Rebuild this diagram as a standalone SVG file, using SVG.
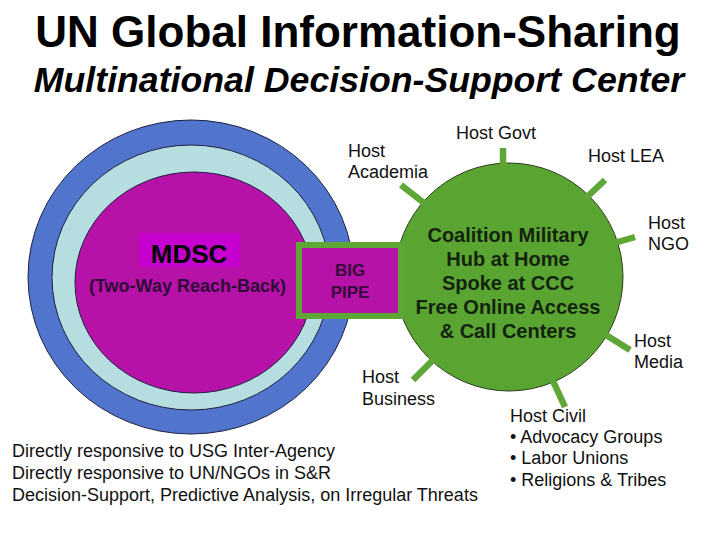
<svg xmlns="http://www.w3.org/2000/svg" width="720" height="540" viewBox="0 0 720 540">
  <style>
    text { font-family: "Liberation Sans", Arial, sans-serif; }
    .title { font-size: 44px; font-weight: bold; fill: #000; }
    .subtitle { font-size: 35.7px; font-weight: bold; font-style: italic; fill: #000; }
    .label { font-size: 18px; fill: #111; }
    .hub { font-size: 20px; font-weight: bold; fill: #14230e; }
    .pipe { font-size: 17px; font-weight: bold; fill: #35093a; }
    .ring { stroke: #1c2240; stroke-width: 1; }
    .spoke { stroke: #5ea636; stroke-width: 6.5; stroke-linecap: butt; fill: none; }
  </style>
  <rect width="720" height="540" fill="#ffffff"/>

  <g id="title">
    <text class="title" x="358" y="47" text-anchor="middle">UN Global Information-Sharing</text>
    <text class="subtitle" x="359" y="92" text-anchor="middle">Multinational Decision-Support Center</text>
  </g>

  <g id="mdsc">
    <ellipse class="ring" cx="191" cy="277" rx="163" ry="157" fill="#5175cc"/>
    <ellipse class="ring" cx="191" cy="277.5" rx="139" ry="132.5" fill="#b6dee1"/>
    <ellipse class="ring" cx="194" cy="282.5" rx="119" ry="110.5" fill="#b612a8"/>
    <rect x="139" y="233" width="101" height="34" fill="#c600ce"/>
    <text x="189" y="263" text-anchor="middle" style="font-size:26px;font-weight:bold;fill:#000">MDSC</text>
    <text x="187.5" y="292" text-anchor="middle" style="font-size:18px;font-weight:bold;fill:#2e0a36">(Two-Way Reach-Back)</text>
  </g>

  <g id="hub">
    <circle cx="509" cy="277" r="114" fill="#5aa532" stroke="#2a3d1c" stroke-width="1"/>
    <text class="hub" x="508" y="242" text-anchor="middle">Coalition Military</text>
    <text class="hub" x="508" y="266" text-anchor="middle">Hub at Home</text>
    <text class="hub" x="508" y="290" text-anchor="middle">Spoke at CCC</text>
    <text class="hub" x="508" y="314" text-anchor="middle">Free Online Access</text>
    <text class="hub" x="508" y="338" text-anchor="middle">&amp; Call Centers</text>
  </g>

  <g id="big-pipe">
    <rect x="299" y="245" width="102" height="71" fill="#b612a8" stroke="#5ea636" stroke-width="6"/>
    <text class="pipe" x="350" y="276" text-anchor="middle">BIG</text>
    <text class="pipe" x="350" y="298" text-anchor="middle">PIPE</text>
  </g>

  <g id="connectors">
    <line class="spoke" x1="503" y1="148" x2="503" y2="165"/>
    <line class="spoke" x1="605" y1="180" x2="586" y2="198"/>
    <line class="spoke" x1="401" y1="185" x2="424" y2="203"/>
    <line class="spoke" x1="635" y1="237" x2="616" y2="242.5"/>
    <line class="spoke" x1="630" y1="350" x2="606" y2="335"/>
    <line class="spoke" x1="565" y1="407" x2="553" y2="381"/>
    <line class="spoke" x1="413" y1="380" x2="433" y2="360"/>
  </g>

  <g id="host-govt">
    <text class="label" x="456" y="139">Host Govt</text>
  </g>
  <g id="host-lea">
    <text class="label" x="588" y="162">Host LEA</text>
  </g>
  <g id="host-academia">
    <text class="label" x="348" y="157">Host</text>
    <text class="label" x="348" y="178">Academia</text>
  </g>
  <g id="host-ngo">
    <text class="label" x="648" y="229">Host</text>
    <text class="label" x="648" y="250">NGO</text>
  </g>
  <g id="host-media">
    <text class="label" x="634" y="347">Host</text>
    <text class="label" x="634" y="368">Media</text>
  </g>
  <g id="host-business">
    <text class="label" x="362" y="383">Host</text>
    <text class="label" x="362" y="405">Business</text>
  </g>
  <g id="host-civil">
    <text class="label" x="510" y="422">Host Civil</text>
    <text class="label" x="510" y="443">• Advocacy Groups</text>
    <text class="label" x="510" y="464">• Labor Unions</text>
    <text class="label" x="510" y="486">• Religions &amp; Tribes</text>
  </g>

  <g id="notes">
    <text class="label" x="12" y="457">Directly responsive to USG Inter-Agency</text>
    <text class="label" x="12" y="479">Directly responsive to UN/NGOs in S&amp;R</text>
    <text class="label" x="12" y="501">Decision-Support, Predictive Analysis, on Irregular Threats</text>
  </g>
</svg>
